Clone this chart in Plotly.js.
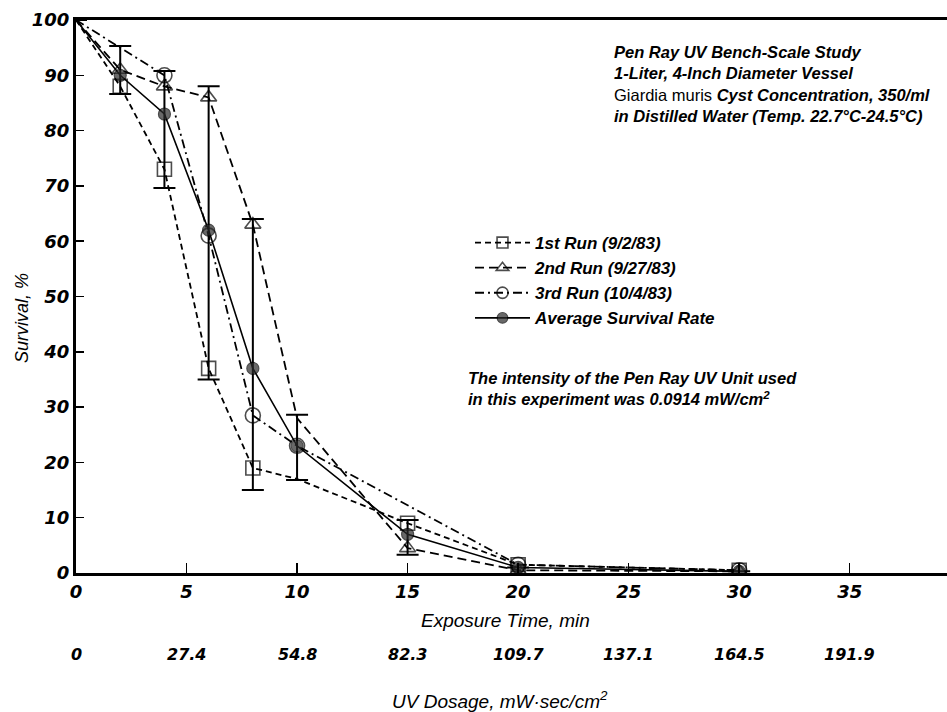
<!DOCTYPE html>
<html>
<head>
<meta charset="utf-8">
<script src="https://cdn.plot.ly/plotly-3.0.1.min.js"></script>
<style>html,body{margin:0;padding:0;background:#fff;}#chart{width:947px;height:712px;}</style>
</head>
<body>
<div id="chart"></div>
<script>
// ---- data ----
var timeAll = [0, 2, 4, 6, 8, 10, 15, 20, 30];
var run1 = [100, 88, 73, 37, 19, 17, 9, 1.5, 0.5];
var run2 = [100, 91, 88, 86, 63, 28, 4.5, 0.5, 0.3];
var time3 = [0, 2, 4, 6, 8, 10, 20, 30];
var run3 = [100, 95, 90, 61, 28.5, 23, 1.5, 0.5];
var avgRate = [100, 90, 83, 62, 37, 23, 7, 1, 0.3];
var rangeHigh = [null, 95.3, 90.8, 88, 64, 28.6, 9.6, null, null];
var rangeLow = [null, 86.6, 69.6, 35, 15, 16.8, 3.3, null, null];

var timeTicks = [0, 5, 10, 15, 20, 25, 30, 35];
var dosageLabels = ['0', '27.4', '54.8', '82.3', '109.7', '137.1', '164.5', '191.9'];
var yTicks = [0, 10, 20, 30, 40, 50, 60, 70, 80, 90, 100];

var seriesNames = ['1st Run (9/2/83)', '2nd Run (9/27/83)', '3rd Run (10/4/83)', 'Average Survival Rate'];

var FONT = 'Liberation Sans, Arial, sans-serif';
var NUMFONT = 'DejaVu Sans, Liberation Sans, sans-serif';

// markers hidden where the reference shows none (start point, points covered by range bars)
function sizes(xs, s, hidden) {
  return xs.map(function (x) { return (x === 0 || hidden.indexOf(x) >= 0) ? 0 : s; });
}

var errPlus = avgRate.map(function (v, i) { return rangeHigh[i] === null ? 0 : rangeHigh[i] - v; });
var errMinus = avgRate.map(function (v, i) { return rangeLow[i] === null ? 0 : v - rangeLow[i]; });

var traces = [
  {
    x: timeAll, y: run1, name: seriesNames[0], mode: 'lines+markers', type: 'scatter',
    line: {color: '#000', width: 1.8, dash: '6px,4px'},
    marker: {symbol: 'square-open', size: sizes(timeAll, 14, [10]), color: '#000', line: {width: 1.6}}
  },
  {
    x: timeAll, y: run2, name: seriesNames[1], mode: 'lines+markers', type: 'scatter',
    line: {color: '#000', width: 1.8, dash: '9px,5px'},
    marker: {symbol: 'triangle-up-open', size: sizes(timeAll, 14, [10]), color: '#000', line: {width: 1.6}}
  },
  {
    x: time3, y: run3, name: seriesNames[2], mode: 'lines+markers', type: 'scatter',
    line: {color: '#000', width: 1.8, dash: '9px,4px,2px,4px'},
    marker: {symbol: 'circle-open', size: sizes(time3, 15, [2]), color: '#000', line: {width: 1.6}}
  },
  {
    x: timeAll, y: avgRate, name: seriesNames[3], mode: 'lines+markers', type: 'scatter',
    line: {color: '#000', width: 1.6},
    marker: {symbol: 'circle', size: sizes(timeAll, 12, []), color: '#2a2a2a', line: {color: '#000', width: 1.2}},
    error_y: {type: 'data', symmetric: false, array: errPlus, arrayminus: errMinus,
      color: '#000', thickness: 2, width: 11}
  }
];

var annotations = [];
// secondary dosage scale, aligned with the exposure-time ticks
timeTicks.forEach(function (t, i) {
  annotations.push({x: t, xref: 'x', y: -0.148, yref: 'paper', text: dosageLabels[i], showarrow: false,
    xanchor: 'center', yanchor: 'middle',
    font: {family: NUMFONT, size: 16, color: '#000', style: 'italic', weight: 'bold'}});
});
function pxLabel(x, y, text, angle, size) {
  return {xref: 'paper', yref: 'paper', x: (x - 76) / 871, y: (573 - y) / 553,
    xanchor: 'center', yanchor: 'middle', showarrow: false, textangle: angle || 0,
    text: text,
    font: {family: FONT, size: size || 19, color: '#000', style: 'italic'}};
}
annotations.push(pxLabel(505, 620, 'Exposure Time, min'));
annotations.push(pxLabel(500, 700, 'UV Dosage, mW·sec/cm<sup>2</sup>'));
annotations.push(pxLabel(22, 318, 'Survival, %', -90, 18));

var infoLines = [
  'Pen Ray UV Bench-Scale Study',
  '1-Liter, 4-Inch Diameter Vessel',
  '<span style="font-style:normal;font-weight:normal">Giardia muris</span> Cyst Concentration, 350/ml',
  'in Distilled Water (Temp. 22.7°C-24.5°C)'
];
annotations.push({xref: 'paper', yref: 'paper', x: (612 - 76) / 871, y: (573 - 84) / 553,
  xanchor: 'left', yanchor: 'middle', align: 'left', showarrow: false,
  text: infoLines.join('<br>'),
  font: {family: FONT, size: 16.5, color: '#000', style: 'italic', weight: 'bold'}});
annotations.push({xref: 'paper', yref: 'paper', x: (466 - 76) / 871, y: (573 - 389) / 553,
  xanchor: 'left', yanchor: 'middle', align: 'left', showarrow: false,
  text: 'The intensity of the Pen Ray UV Unit used<br>in this experiment was 0.0914 mW/cm<sup>2</sup>',
  font: {family: FONT, size: 16.5, color: '#000', style: 'italic', weight: 'bold'}});

var layout = {
  width: 947, height: 712,
  margin: {l: 76, r: 0, t: 20, b: 139, pad: 0},
  paper_bgcolor: '#fff', plot_bgcolor: '#fff',
  showlegend: true,
  legend: {x: (470 - 76) / 871, y: (573 - 225) / 553, xanchor: 'left', yanchor: 'top',
    bgcolor: 'rgba(0,0,0,0)', borderwidth: 0, itemwidth: 55, tracegroupgap: 0,
    font: {family: FONT, size: 17, color: '#000', style: 'italic', weight: 'bold'}},
  xaxis: {
    range: [0, 39.4], tickvals: timeTicks, ticktext: timeTicks.map(String),
    ticks: 'inside', ticklen: 10, tickwidth: 1.5, tickcolor: '#000',
    showline: true, linewidth: 3, linecolor: '#000', mirror: true,
    showgrid: false, zeroline: false,
    tickfont: {family: NUMFONT, size: 18, color: '#000', style: 'italic', weight: 'bold'}
  },
  yaxis: {
    range: [0, 100], tickvals: yTicks, ticktext: yTicks.map(String),
    ticks: 'inside', ticklen: 8, tickwidth: 1.5, tickcolor: '#000',
    showline: true, linewidth: 3, linecolor: '#000',
    showgrid: false, zeroline: false,
    tickfont: {family: NUMFONT, size: 18, color: '#000', style: 'italic', weight: 'bold'}
  },
  annotations: annotations
};

Plotly.newPlot('chart', traces, layout, {staticPlot: true, displayModeBar: false});
</script>
</body>
</html>
